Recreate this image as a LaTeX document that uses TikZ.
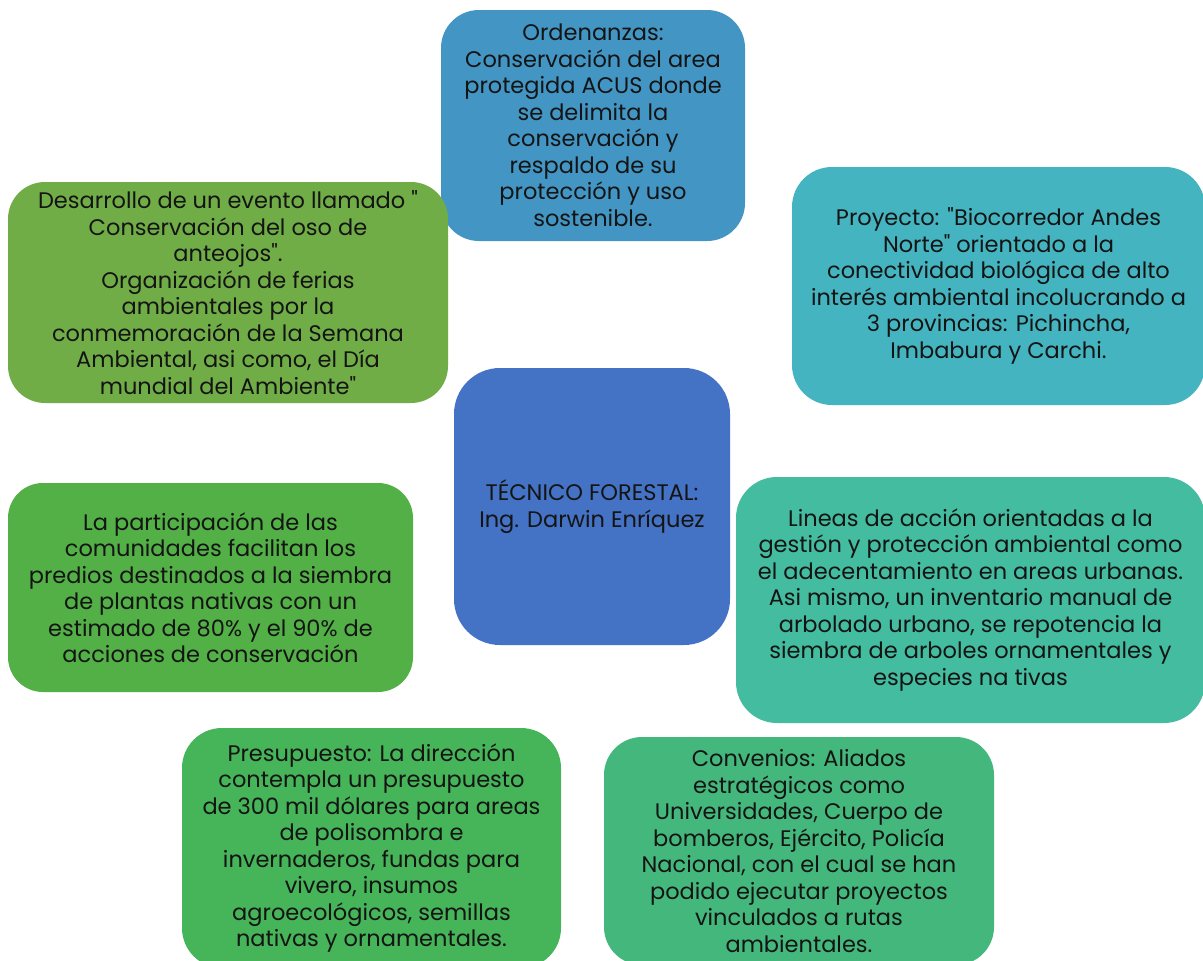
\documentclass[tikz,border=0pt]{standalone}
\usepackage{fontspec}
\setmainfont{Poppins}[Ligatures=TeXOff]
\usetikzlibrary{backgrounds}
\definecolor{cT}{HTML}{4396C4}
\definecolor{cTR}{HTML}{44B5C0}
\definecolor{cR}{HTML}{43BC9F}
\definecolor{cBR}{HTML}{44B87C}
\definecolor{cBL}{HTML}{46B458}
\definecolor{cL}{HTML}{52B046}
\definecolor{cTL}{HTML}{70AD47}
\definecolor{cC}{HTML}{4472C4}
\definecolor{conn}{HTML}{70AD47}
\definecolor{txt}{HTML}{141414}
\tikzset{
  box/.style={rectangle, inner sep=0pt, align=center, text=txt,
    font=\fontsize{22.5}{26.5}\selectfont},
  link/.style={draw=conn, line width=2pt, shorten >=2pt, shorten <=2pt},
}
\begin{document}
\begin{tikzpicture}[x=1pt,y=-1pt]
\useasboundingbox (0,0) rectangle (1203,961);
\fill[white] (0,0) rectangle (1203,961);
\node[box, fill=cT, minimum width=304pt, minimum height=231pt, rounded corners=38pt] (T) at (593,125.5)
 {Ordenanzas:\\Conservación del area\\protegida ACUS donde\\se delimita la\\conservación y\\respaldo de su\\protección y uso\\sostenible.};
\node[box, fill=cTR, minimum width=413pt, minimum height=238pt, rounded corners=40pt] (TR) at (998.5,286)
 {Proyecto: "Biocorredor Andes\\Norte" orientado a la\\conectividad biológica de alto\\interés ambiental incolucrando a\\3 provincias: Pichincha,\\Imbabura y Carchi.};
\node[box, fill=cR, minimum width=469pt, minimum height=246pt, rounded corners=41pt] (R) at (970.5,600)
 {Lineas de acción orientadas a la\\gestión y protección ambiental como\\el adecentamiento en areas urbanas.\\Asi mismo, un inventario manual de\\arbolado urbano, se repotencia la\\siembra de arboles ornamentales y\\especies na tivas};
\node[box, fill=cBR, minimum width=390pt, minimum height=228pt, rounded corners=38pt] (BR) at (799,851)
 {Convenios: Aliados\\estratégicos como\\Universidades, Cuerpo de\\bomberos, Ejército, Policía\\Nacional, con el cual se han\\podido ejecutar proyectos\\vinculados a rutas\\ambientales.};
\node[box, fill=cBL, minimum width=379pt, minimum height=240pt, rounded corners=40pt] (BL) at (371.5,848)
 {Presupuesto: La dirección\\contempla un presupuesto\\de 300 mil dólares para areas\\de polisombra e\\invernaderos, fundas para\\vivero, insumos\\agroecológicos, semillas\\nativas y ornamentales.};
\node[box, fill=cL, minimum width=405pt, minimum height=209pt, rounded corners=35pt] (L) at (210.5,587.5)
 {La participación de las\\comunidades facilitan los\\predios destinados a la siembra\\de plantas nativas con un\\estimado de 80\% y el 90\% de\\acciones de conservación};
\node[box, fill=cTL, minimum width=440pt, minimum height=221pt, rounded corners=37pt] (TL) at (228,292.5)
 {Desarrollo de un evento llamado "\\Conservación del oso de\\anteojos".\\Organización de ferias\\ambientales por la\\conmemoración de la Semana\\Ambiental, asi como, el Día\\mundial del Ambiente"};
\node[box, fill=cC, minimum width=276pt, minimum height=277pt, rounded corners=46pt] (C) at (592,506.5)
 {TÉCNICO FORESTAL:\\Ing. Darwin Enríquez};
\begin{scope}[on background layer]
\draw[link] (C) -- (T);
\draw[link] (C) -- (TR);
\draw[link] (C) -- (R);
\draw[link] (C) -- (BR);
\draw[link] (C) -- (BL);
\draw[link] (C) -- (L);
\draw[link] (C) -- (TL);
\end{scope}
\end{tikzpicture}
\end{document}
